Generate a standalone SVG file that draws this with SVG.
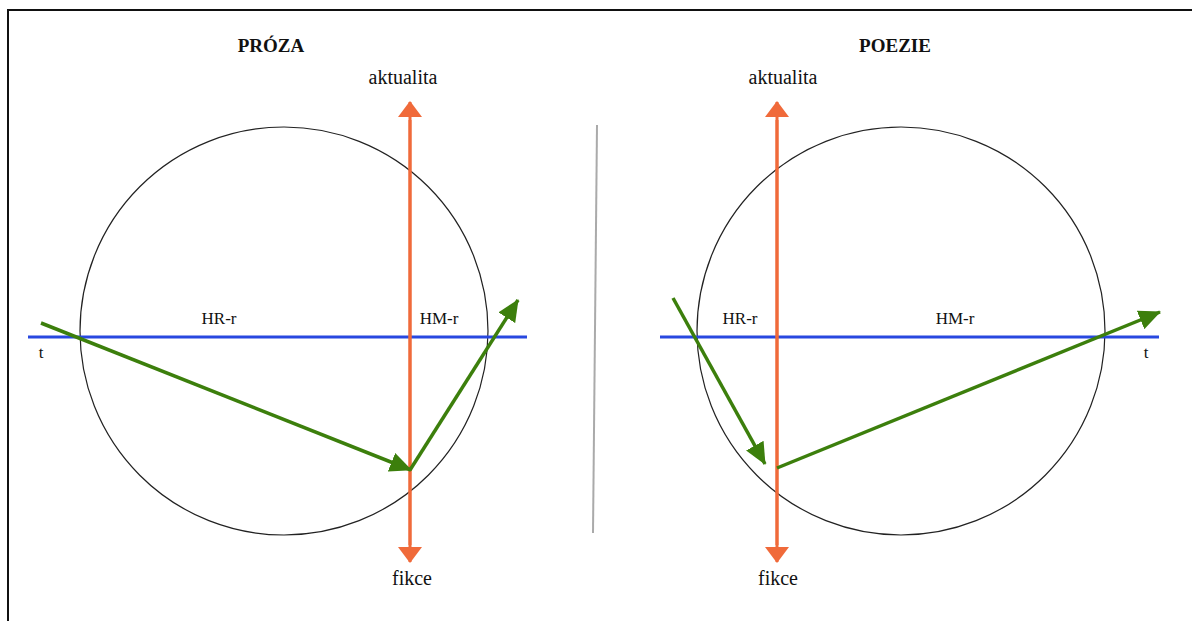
<svg xmlns="http://www.w3.org/2000/svg" width="1192" height="621" viewBox="0 0 1192 621">
<style>
text{font-family:"Liberation Serif","Times New Roman",serif;font-size:17px;fill:#111}
.title{font-weight:bold;font-size:19px}
.big{font-size:20px}
.circ{fill:none;stroke:#222;stroke-width:1.2}
.blue{stroke:#2848e0;stroke-width:3}
.orange{stroke:#f06a3a;stroke-width:3}
.green{stroke:#3c7f0c;stroke-width:3.5;fill:none}
</style>
<defs>
<marker id="ao" viewBox="0 0 16 24" refX="15" refY="12" markerWidth="16" markerHeight="24" markerUnits="userSpaceOnUse" orient="auto"><path d="M0,0L16,12L0,24Z" fill="#f06a3a"/></marker>
<marker id="ag" viewBox="0 0 22 20" refX="21" refY="10" markerWidth="22" markerHeight="20" markerUnits="userSpaceOnUse" orient="auto"><path d="M0,0L22,10L0,20Z" fill="#3c7f0c"/></marker>
</defs>
<rect width="1192" height="621" fill="#fff"/>
<rect x="8" y="10" width="1300" height="700" fill="none" stroke="#111" stroke-width="2"/>
<line x1="597" y1="125" x2="593" y2="533" stroke="#aaa" stroke-width="2"/>
<g id="left">
<circle class="circ" cx="284" cy="331" r="204"/>
<text class="title" x="271" y="52" text-anchor="middle">PRÓZA</text>
<text class="big" x="403" y="84" text-anchor="middle">aktualita</text>
<text class="big" x="412" y="585" text-anchor="middle">fikce</text>
<text x="219" y="324" text-anchor="middle">HR-r</text>
<text x="439" y="324" text-anchor="middle">HM-r</text>
<text x="41" y="358" text-anchor="middle">t</text>
</g>
<g id="right">
<circle class="circ" cx="901" cy="331" r="204"/>
<text class="title" x="895" y="52" text-anchor="middle">POEZIE</text>
<text class="big" x="783" y="84" text-anchor="middle">aktualita</text>
<text class="big" x="778" y="585" text-anchor="middle">fikce</text>
<text x="740" y="324" text-anchor="middle">HR-r</text>
<text x="955" y="324" text-anchor="middle">HM-r</text>
<text x="1146" y="358" text-anchor="middle">t</text>
</g>
<g id="connectors">
<line class="blue" x1="28" y1="337" x2="527" y2="337"/>
<line class="blue" x1="660" y1="337" x2="1159" y2="337"/>
<line class="orange" x1="410" y1="545" x2="410" y2="102" marker-end="url(#ao)"/>
<line class="orange" x1="410" y1="120" x2="410" y2="562" marker-end="url(#ao)"/>
<line class="orange" x1="777" y1="545" x2="777" y2="102" marker-end="url(#ao)"/>
<line class="orange" x1="777" y1="120" x2="777" y2="562" marker-end="url(#ao)"/>
<line class="green" x1="41" y1="323" x2="411" y2="470" marker-end="url(#ag)"/>
<line class="green" x1="410" y1="470" x2="518" y2="300" marker-end="url(#ag)"/>
<line class="green" x1="673" y1="298" x2="765" y2="464" marker-end="url(#ag)"/>
<line class="green" x1="777" y1="468" x2="1160" y2="312" marker-end="url(#ag)"/>
</g>
</svg>
